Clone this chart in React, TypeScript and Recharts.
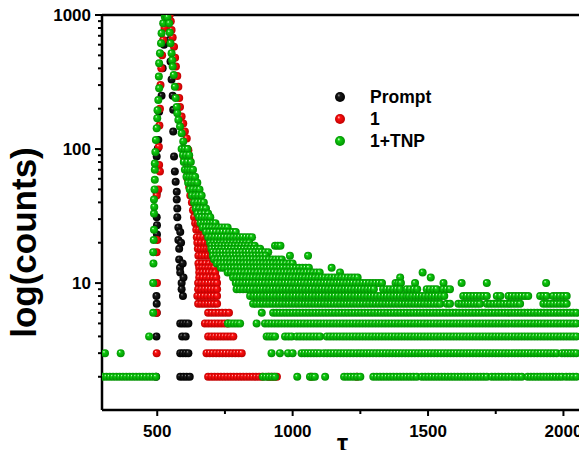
import { ScatterChart, Scatter, XAxis, YAxis, Legend, ReferenceLine } from "recharts"

const FONT = "'Liberation Sans', Arial, sans-serif"

// spacing (τ) of neighbouring channels inside a flat count band
const STEP = 12

// [τ, counts] points read along the peak
const promptPeak: [number, number][] = [
  [496, 2], [497, 4], [498, 6], [498, 7], [497, 8], [499, 23], [499, 27], [498, 31], [498, 47],
  [498, 88], [502, 101], [504, 117], [507, 190], [516, 250], [520, 400], [525, 600], [530, 850],
  [535, 1000], [540, 900], [545, 650], [549, 450], [553, 330], [557, 250], [559, 196], [559, 135],
  [562, 88], [565, 68], [568, 57], [572, 48], [572, 42], [574, 36], [574, 31], [578, 26], [578, 21],
  [581, 18], [581, 15], [584, 13], [585, 12], [590, 10], [590, 9], [595, 8], [597, 11], [594, 14],
  [588, 20], [585, 24],
]
// [counts, from τ, to τ] flat bands in the tail
const promptBands: [number, number, number][] = [
  [5, 585, 615], [4, 592, 605], [3, 585, 615], [2, 585, 620],
]

const redPeak: [number, number][] = [
  [498, 3], [498, 6], [499, 10], [498, 17], [500, 21], [498, 45], [504, 50], [507, 76], [510, 68],
  [506, 104], [508, 150], [510, 200], [512, 300], [515, 400], [518, 500], [522, 650], [527, 800],
  [533, 950], [540, 1000], [546, 1000], [550, 900], [553, 773], [557, 680], [562, 580], [566, 480],
  [569, 412], [574, 350], [578, 291], [581, 240], [584, 206], [590, 175], [596, 155], [602, 135],
  [609, 120], [615, 98],
]
const redBands: [number, number, number][] = [
  [100, 596, 612], [85, 600, 618], [70, 605, 625], [60, 612, 632], [52, 618, 640], [45, 622, 645],
  [40, 628, 650], [35, 632, 658], [31, 636, 662], [28, 640, 670], [25, 644, 676], [22, 646, 682],
  [20, 648, 688], [18, 650, 692], [16, 652, 698], [14, 652, 705], [13, 655, 710], [12, 655, 714],
  [11, 655, 718], [10, 651, 721], [9, 651, 721], [8, 648, 721], [7, 651, 721], [6, 688, 765],
  [5, 676, 760], [4, 688, 781], [3, 682, 812], [2, 688, 888], [2, 910, 942], [2, 1068, 1068],
  [2, 1237, 1237],
]

const greenPeak: [number, number][] = [
  [485, 10], [486, 14], [485, 17], [487, 21], [488, 25], [488, 33], [489, 37], [488, 42], [490, 50],
  [491, 59], [491, 70], [491, 78], [493, 95], [495, 117], [498, 143], [500, 170], [501, 195],
  [504, 232], [507, 284], [506, 347], [507, 436], [510, 518], [514, 615], [516, 730], [522, 867],
  [528, 970], [532, 1000], [538, 960], [544, 867], [546, 740], [549, 615], [553, 518], [555, 460],
  [557, 412], [561, 357], [565, 291], [568, 240], [572, 206], [574, 185], [578, 165], [584, 147],
  [590, 131], [596, 114],
]
const greenBands: [number, number, number][] = [
  [100, 590, 612], [90, 595, 618], [80, 598, 624], [70, 602, 632], [62, 608, 640], [56, 614, 648],
  [50, 620, 656], [45, 628, 664], [40, 636, 672], [36, 642, 680], [33, 648, 688], [31, 654, 696],
  [28, 660, 715], [26, 668, 760], [24, 680, 790], [22, 688, 850], [20, 695, 840], [19, 700, 860],
  [19, 935, 955], [18, 700, 880], [17, 705, 910], [16, 705, 900], [16, 990, 990], [16, 1057, 1057],
  [15, 710, 960], [14, 720, 1000], [13, 735, 1060], [13, 1144, 1144], [12, 760, 1100],
  [12, 1175, 1175], [12, 1480, 1480], [11, 780, 1240], [11, 1397, 1397], [11, 1510, 1510],
  [10, 790, 1330], [10, 1380, 1400], [10, 1452, 1452], [10, 1557, 1557], [10, 1624, 1624],
  [10, 1717, 1717], [10, 1936, 1936], [9, 793, 1300], [9, 1334, 1397], [9, 1421, 1460],
  [9, 1495, 1532], [9, 1556, 1581], [8, 843, 1420], [8, 1430, 1560], [8, 1630, 1717],
  [8, 1754, 1767], [8, 1797, 1870], [8, 1914, 1938], [8, 1962, 2012], [7, 854, 1545],
  [7, 1569, 1581], [7, 1612, 1692], [7, 1717, 1840], [7, 1926, 2012], [6, 485, 485], [6, 886, 886],
  [6, 928, 2048], [5, 761, 806], [5, 867, 867], [5, 898, 2048], [4, 470, 475], [4, 904, 935],
  [4, 972, 996], [4, 1015, 1101], [4, 1126, 2048], [3, 307, 307], [3, 365, 365], [3, 922, 922],
  [3, 953, 953], [3, 983, 1000], [3, 1033, 1100], [3, 1115, 1224], [3, 1237, 1975], [3, 1994, 2048],
  [2, 300, 495], [2, 890, 935], [2, 1017, 1017], [2, 1064, 1082], [2, 1120, 1120], [2, 1190, 1250],
  [2, 1298, 1458], [2, 1477, 1717], [2, 1735, 1846], [2, 1868, 1995], [2, 2010, 2048],
]

const xTicks = [500, 750, 1000, 1250, 1500, 1750, 2000]
const xMajor = [500, 1000, 1500, 2000]
const yTicks = [2, 3, 4, 5, 6, 7, 8, 9, 10, 20, 30, 40, 50, 60, 70, 80, 90, 100, 200, 300, 400, 500, 600, 700, 800, 900, 1000]
const yMajor = [10, 100, 1000]

const toPoints = (peak: [number, number][], bands: [number, number, number][]) => {
  const pts = peak.map(([x, y]) => ({ x, y }))
  bands.forEach(([y, a, b]) => {
    const n = Math.round((b - a) / STEP)
    for (let i = 0; i <= n; i++) pts.push({ x: n ? a + ((b - a) * i) / n : a, y })
  })
  return pts
}

const series = [
  { name: "Prompt", grad: "ballBlack", data: toPoints(promptPeak, promptBands) },
  { name: "1", grad: "ballRed", data: toPoints(redPeak, redBands) },
  { name: "1+TNP", grad: "ballGreen", data: toPoints(greenPeak, greenBands) },
]

const ball = (grad: string, r = 4) => (p: any) =>
  p.cx == null ? <g /> : <circle cx={p.cx} cy={p.cy} r={r} fill={`url(#${grad})`} />

const XTick = (p: any) => {
  const v = p.payload.value
  const major = xMajor.includes(v)
  return (
    <g>
      <line x1={p.x} x2={p.x} y1={p.y} y2={p.y + (major ? 6 : 4)} stroke="#000" strokeWidth={2} />
      {major && (
        <text x={p.x} y={p.y + 27} textAnchor="middle" fontSize={17} fontWeight="bold" fontFamily={FONT} fill="#000">
          {v}
        </text>
      )}
    </g>
  )
}

const YTick = (p: any) => {
  const v = p.payload.value
  const major = yMajor.includes(v)
  return (
    <g>
      <line x1={p.x - (major ? 7 : 4)} x2={p.x} y1={p.y} y2={p.y} stroke="#000" strokeWidth={2} />
      {major && (
        <text x={p.x - 11} y={p.y + 6} textAnchor="end" fontSize={17} fontWeight="bold" fontFamily={FONT} fill="#000">
          {v}
        </text>
      )}
    </g>
  )
}

const LegendBox = () => (
  <div style={{ fontFamily: FONT, fontWeight: "bold", fontSize: 17.5, color: "#000" }}>
    {series.map((s) => (
      <div key={s.name} style={{ display: "flex", alignItems: "center", height: 22.2 }}>
        <svg width={14} height={22}>
          <circle cx={7} cy={11} r={5} fill={`url(#${s.grad})`} />
        </svg>
        <span style={{ marginLeft: 23, lineHeight: "22px" }}>{s.name}</span>
      </div>
    ))}
  </div>
)

const Grad = ({ id, hi, mid, edge }: { id: string; hi: string; mid: string; edge: string }) => (
  <radialGradient id={id} cx="50%" cy="50%" r="50%" fx="35%" fy="30%">
    <stop offset="0%" stopColor={hi} />
    <stop offset="30%" stopColor={mid} />
    <stop offset="100%" stopColor={edge} />
  </radialGradient>
)

export default function App() {
  return (
    <div style={{ position: "relative", margin: -8, width: 587, height: 458, background: "#fff" }}>
      <svg width={0} height={0} style={{ position: "absolute" }}>
        <defs>
          <Grad id="ballBlack" hi="#9a9a9a" mid="#1a1a1a" edge="#000000" />
          <Grad id="ballRed" hi="#ffd0d0" mid="#ff1010" edge="#c00000" />
          <Grad id="ballGreen" hi="#e8ffe8" mid="#10cc10" edge="#009000" />
        </defs>
      </svg>
      <ScatterChart width={587} height={458} margin={{ top: 15, right: 0, bottom: 0, left: 0 }}>
        <XAxis
          type="number"
          dataKey="x"
          domain={[296, 2087]}
          allowDataOverflow
          ticks={xTicks}
          interval={0}
          height={48}
          tickSize={0}
          tickMargin={0}
          tick={XTick}
          axisLine={{ stroke: "#000", strokeWidth: 2.5 }}
          label={({ viewBox }: any) => (
            <text
              x={viewBox.x + viewBox.width / 2 - 2}
              y={viewBox.y + 42}
              textAnchor="middle"
              fontSize={25}
              fontWeight="bold"
              fontFamily={FONT}
              fill="#000"
            >
              τ
            </text>
          )}
        />
        <YAxis
          type="number"
          dataKey="y"
          scale="log"
          domain={[1.13, 1000]}
          allowDataOverflow
          ticks={yTicks}
          interval={0}
          width={102}
          tickSize={0}
          tickMargin={0}
          tick={YTick}
          axisLine={{ stroke: "#000", strokeWidth: 2.5 }}
          label={({ viewBox }: any) => (
            <text
              transform={`translate(${viewBox.x + 36}, ${viewBox.y + viewBox.height / 2 + 30}) rotate(-90)`}
              textAnchor="middle"
              fontSize={35}
              fontWeight="bold"
              fontFamily={FONT}
              fill="#000"
            >
              log(counts)
            </text>
          )}
        />
        {series.map((s) => (
          <Scatter key={s.name} name={s.name} data={s.data} shape={ball(s.grad)} isAnimationActive={false} />
        ))}
        <ReferenceLine y={1000} stroke="#000" strokeWidth={2.5} />
        <Legend
          layout="vertical"
          align="center"
          verticalAlign="middle"
          wrapperStyle={{ left: 333, top: 86, width: 120 }}
          content={LegendBox}
        />
      </ScatterChart>
    </div>
  )
}
